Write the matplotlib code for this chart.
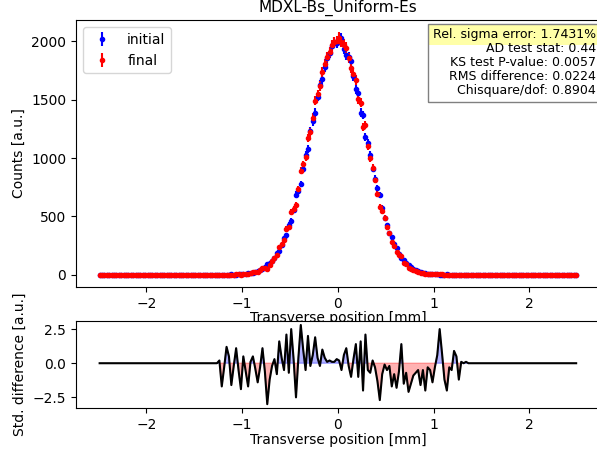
import numpy as np
from matplotlib import pyplot as plt
from matplotlib.patches import Rectangle

# histogram bins (200 bins over -2.5..2.5 mm)
n_bins = 200
lead = 50  # empty bins before the beam

init_core = [0, 2, 1, 0, 1, 3, 2, 2, 4, 7,
             6, 9, 13, 14, 17, 26, 34, 40, 47, 66,
             90, 102, 118, 143, 186, 204, 255, 312, 340, 428,
             462, 556, 688, 720, 780, 905, 1030, 1080, 1230, 1315,
             1390, 1525, 1630, 1680, 1780, 1860, 1900, 1960, 1990, 1985,
             2020, 2030, 1935, 1880, 1870, 1830, 1700, 1590, 1560, 1390,
             1370, 1180, 1130, 1030, 910, 825, 745, 680, 570, 490,
             425, 360, 320, 262, 230, 180, 140, 128, 100, 88,
             68, 52, 41, 32, 28, 19, 17, 11, 9, 8,
             5, 3, 1, 2, 2, 4, 1, 1, 0, 0,
             1, 0, 0, 0, 0]

final_core = [1, 0, 1, 2, 2, 0, 2, 4, 3, 2,
              8, 7, 5, 15, 20, 23, 23, 37, 58, 59,
              52, 85, 115, 148, 171, 237, 264, 300, 396, 408,
              540, 566, 598, 735, 893, 948, 1007, 1175, 1220, 1346,
              1492, 1547, 1619, 1739, 1804, 1866, 1912, 1966, 1996, 2004,
              2033, 1998, 1973, 1948, 1858, 1770, 1718, 1670, 1505, 1476,
              1267, 1284, 1106, 998, 919, 813, 695, 583, 543, 487,
              410, 355, 278, 244, 193, 169, 164, 105, 90, 62,
              51, 43, 35, 28, 17, 16, 6, 10, 7, 3,
              4, 5, 7, 3, 0, 0, 1, 0, 1, 1,
              0, 0, 0, 0, 0]

diff_core = [0.2, -1.7, -0.3, 1.2, 0.5, -1.6, -0.2, 1.1, -0.5, -1.9,
             0.5, -0.6, -1.7, 0.1, 0.5, -0.4, -1.4, -0.3, 1.1, -0.6,
             -3.0, -1.2, -0.2, 0.3, -0.8, 1.6, 0.4, -0.5, 2.1, -0.7,
             2.5, 0.3, -2.5, 0.4, 2.8, 1.0, -0.5, 2.0, -0.2, 0.6,
             1.9, 0.4, -0.2, 1.0, 0.4, 0.1, 0.2, 0.1, 0.1, 0.3,
             0.2, -0.5, 0.6, 1.1, -0.2, -1.0, 0.3, 1.4, -1.0, 1.6,
             -2.0, 2.1, -0.5, -0.7, 0.2, -0.3, -1.3, -2.7, -0.8, -0.1,
             -0.5, -0.2, -1.7, -0.8, -1.8, -0.6, 1.4, -1.5, -0.7, -2.1,
             -1.5, -0.9, -0.7, -0.5, -1.6, -0.5, -2.0, -0.3, -0.5, -1.4,
             -0.3, 0.6, 2.5, 0.7, -1.2, -2.0, -0.3, -0.5, 0.9, 0.5,
             -1.2, 0.1, 0.0, 0.1, 0.0]

stats_lines = ["Rel. sigma error: 1.7431%",
               "AD test stat: 0.44",
               "KS test P-value: 0.0057",
               "RMS difference: 0.0224",
               "Chisquare/dof: 0.8904"]


def pad(core):
    tail = n_bins - lead - len(core)
    return np.array([0] * lead + list(core) + [0] * tail, dtype=float)


def main():
    edges = np.linspace(-2.5, 2.5, n_bins + 1)
    x = 0.5 * (edges[1:] + edges[:-1])
    initial = pad(init_core)
    final = pad(final_core)
    diff = pad(diff_core)

    fig = plt.figure(figsize=(5.97, 4.49), dpi=100)
    ax1 = fig.add_axes([0.127, 0.361, 0.878, 0.594])
    ax2 = fig.add_axes([0.127, 0.091, 0.878, 0.194])

    ax1.errorbar(x, initial, yerr=np.sqrt(initial), fmt='.', color='b', label='initial')
    ax1.errorbar(x, final, yerr=np.sqrt(final), fmt='.', color='r', label='final')
    ax1.set_xlabel("Transverse position [mm]", labelpad=0)
    ax1.set_ylabel("Counts [a.u.]")
    ax1.set_title("MDXL-Bs_Uniform-Es", fontsize=11)
    ax1.legend(loc="upper left")

    fs = 9
    txt = ax1.text(0.992, 0.97, "\n".join(stats_lines), transform=ax1.transAxes,
                   ha='right', va='top', fontsize=fs, linespacing=1.1,
                   bbox=dict(boxstyle='square,pad=0.35', facecolor='none', edgecolor='gray'))

    # white box with a yellow highlight behind the first line
    fig.canvas.draw()
    rend = fig.canvas.get_renderer()
    box = txt.get_bbox_patch().get_window_extent(rend)
    tb = txt.get_window_extent(rend)
    line_h = tb.height / len(stats_lines)
    pad_px = box.y1 - tb.y1
    hl_h = pad_px + line_h + 3
    inv = fig.transFigure.inverted()
    fx0, fy_bot = inv.transform((box.x0, box.y0))
    fx1, fy_top = inv.transform((box.x1, box.y1))
    fy_hl = inv.transform((box.x0, box.y1 - hl_h))[1]
    fig.add_artist(Rectangle((fx0, fy_bot), fx1 - fx0, fy_top - fy_bot, transform=fig.transFigure,
                             facecolor='white', edgecolor='none', zorder=9))
    fig.add_artist(Rectangle((fx0, fy_hl), fx1 - fx0, fy_top - fy_hl, transform=fig.transFigure,
                             facecolor='#ffffa8', edgecolor='none', zorder=10))
    txt.remove()
    txt.set_zorder(11)
    fig.add_artist(txt)

    ax2.plot(x, diff, color='k', lw=1.5)
    ax2.fill_between(x, diff, 0, where=diff > 0, color='blue', alpha=0.3, interpolate=True)
    ax2.fill_between(x, diff, 0, where=diff < 0, color='red', alpha=0.3, interpolate=True)
    ax2.set_xlim(ax1.get_xlim())
    ax2.set_xlabel("Transverse position [mm]", labelpad=1)
    ax2.set_ylabel("Std. difference [a.u.]")

    plt.savefig('out.png')


if __name__ == "__main__":
    main()
